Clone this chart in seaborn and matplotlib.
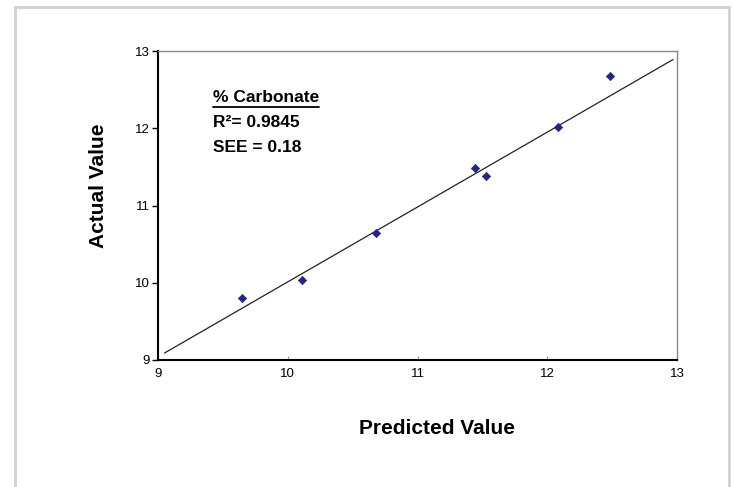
import matplotlib
matplotlib.use('Agg')
import matplotlib.pyplot as plt
import seaborn as sns
import pandas as pd
from matplotlib.patches import Rectangle
from matplotlib.lines import Line2D

# Data
predicted = [9.65, 10.11, 10.68, 11.44, 11.53, 12.08, 12.48]
actual = [9.80, 10.04, 10.64, 11.49, 11.38, 12.01, 12.68]
line_x = [9.05, 12.97]
line_y = [9.09, 12.89]
ticks = [9, 10, 11, 12, 13]

sns.set_style('white')
plt.rcParams['font.family'] = ['Liberation Sans', 'DejaVu Sans']
plt.rcParams['text.color'] = 'black'
plt.rcParams['xtick.labelcolor'] = 'black'
plt.rcParams['ytick.labelcolor'] = 'black'

df = pd.DataFrame({'Predicted': predicted, 'Actual': actual})

fig = plt.figure(figsize=(7.34, 4.87), dpi=100)
ax = fig.add_axes([158/734, 1-360/487, (677-158)/734, (360-51)/487])

# outer chart border
fig.patches.append(Rectangle((15/734, -0.05), (729-15)/734, 1.05-7/487,
                             transform=fig.transFigure, fill=False,
                             edgecolor='#d0d0d0', linewidth=2))

sns.lineplot(x=line_x, y=line_y, color='#222222', linewidth=0.9, ax=ax)
sns.scatterplot(data=df, x='Predicted', y='Actual', marker='D', s=18,
                color='#262680', edgecolor='#262680', linewidth=0.5, ax=ax, zorder=3)

ax.set_xlim(9, 13)
ax.set_ylim(9, 13)
ax.set_xticks(ticks)
ax.set_yticks(ticks)
ax.tick_params(axis='y', direction='out', length=4, width=1, color='black',
               labelsize=9.5, labelcolor='black', pad=2, left=True)
ax.tick_params(axis='x', direction='in', length=3, width=0.8, color='#999999',
               labelsize=9.5, labelcolor='black', pad=6, bottom=True)

for side in ['left', 'bottom']:
    ax.spines[side].set_color('black')
    ax.spines[side].set_linewidth(1.5)
for side in ['top', 'right']:
    ax.spines[side].set_color('#888888')
    ax.spines[side].set_linewidth(1)

ax.set_xlabel('')
ax.set_ylabel('')
fig.text(437/734, 1-429/487, 'Predicted Value', ha='center', va='center',
         fontsize=15, fontweight='bold', color='black')
fig.text(98/734, 1-186/487, 'Actual Value', ha='center', va='center',
         rotation=90, fontsize=15, fontweight='bold', color='black')

# annotation block
t1 = fig.text(213/734, 1-98/487, '% Carbonate', ha='left', va='center',
              fontsize=12.5, fontweight='bold', color='black')
fig.text(213/734, 1-122.5/487, 'R²= 0.9845', ha='left', va='center',
         fontsize=12.5, fontweight='bold', color='black')
fig.text(213/734, 1-147/487, 'SEE = 0.18', ha='left', va='center',
         fontsize=12.5, fontweight='bold', color='black')

fig.canvas.draw()
bb = t1.get_window_extent()
uy = bb.y0 - 1
fig.lines.append(Line2D([bb.x0, bb.x1], [uy, uy], transform=None,
                        color='black', linewidth=1.3))

fig.savefig('out.png', dpi=100)
